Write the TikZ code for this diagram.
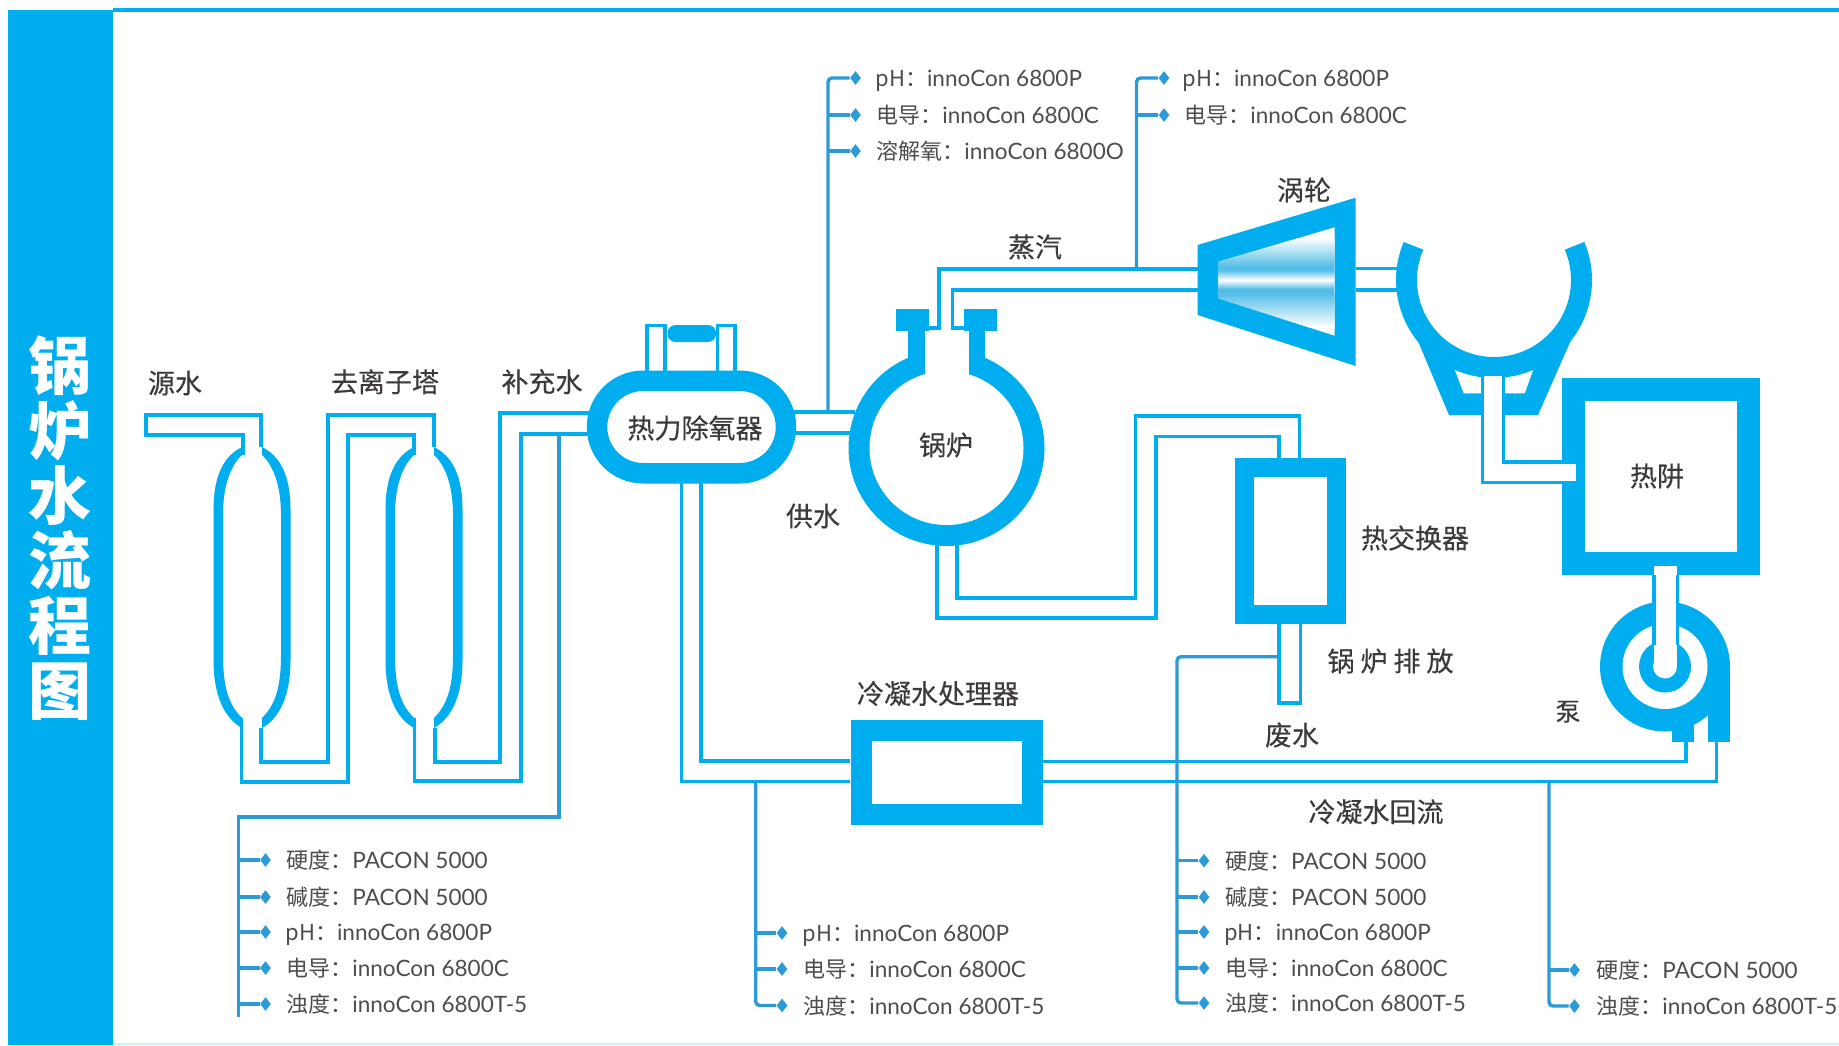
\documentclass[tikz,border=0pt]{standalone}
\usepackage{fontspec}
\setmainfont[Scale=1.025]{Lato}
\newfontfamily\cjk{Noto Sans CJK SC}
\newfontfamily\cjkm[FakeBold=0.35]{Noto Sans CJK SC}
\usetikzlibrary{shapes.geometric,shapes.misc}
\definecolor{pipec}{HTML}{00AEEF}
\definecolor{sensorc}{HTML}{2A9AD8}
\definecolor{textc}{HTML}{3E3A39}
\definecolor{smallc}{HTML}{4F4C4B}
\definecolor{turbc}{HTML}{52BDE7}
\tikzset{
  pipe/.style={draw=pipec,line width=1.6pt},
  wall/.style={fill=pipec},
  sensorline/.style={draw=sensorc,line width=1.7pt,rounded corners=2pt},
  tip/.style={diamond,fill=sensorc,inner sep=0pt,minimum width=5.5pt,minimum height=7pt},
  smalltext/.style={text=smallc,anchor=base west,inner sep=0pt,yshift=-4.3pt,font=\fontsize{11}{13}\selectfont},
  bigtext/.style={text=textc,inner sep=0pt,font=\fontsize{13.5}{15}\selectfont\cjkm},
}
\newcommand{\lab}[2]{{\cjk #1：}#2}
\newcommand{\sensorbranch}[6]{%
  \coordinate (#1-t) at (#2,#3);
  \node[tip] (#1-d) at (#4,#3) {};
  \draw[sensorline] (#1-t) -- (#1-d);
  \node[smalltext] (#1-l) at (#5,#3) {#6};
}
\newcommand{\vessel}{%
  \fill[wall] (242,447) .. controls (224,456) and (213.5,475) .. (213.5,510) -- (213.5,660) .. controls (213.5,695) and (224,718) .. (242,728) -- (242,718) .. controls (230,706) and (223,690) .. (223,655) -- (223,515) .. controls (223,485) and (231,465) .. (242,455) -- cycle;
  \fill[wall] (262,447) .. controls (280,456) and (290.5,475) .. (290.5,510) -- (290.5,660) .. controls (290.5,695) and (280,718) .. (262,728) -- (262,718) .. controls (274,706) and (281,690) .. (281,655) -- (281,515) .. controls (281,485) and (273,465) .. (262,455) -- cycle;
}
\begin{document}
\begin{tikzpicture}[x=0.5pt,y=-0.5pt]
\useasboundingbox (0,0) rectangle (1839,1045);
\fill[white] (0,0) rectangle (1839,1045);
% frame
\fill[pipec] (113,8) rectangle (1839,11.5);
\fill[pipec!20] (113,1043) rectangle (1839,1045);
\fill[pipec] (8,10) rectangle (113,1045);
\node[align=center,text=white,inner sep=0pt,font=\fontsize{31.5}{32.5}\selectfont\cjk\bfseries] (title) at (60,528) {锅\\炉\\水\\流\\程\\图};

% pipes
\draw[pipe] (243,455) -- (243,435) -- (146,435) -- (146,415) -- (261,415) -- (261,447);
\draw[pipe] (241.5,718) -- (241.5,782) -- (348,782) -- (348,435) -- (414,435) -- (414,455);
\draw[pipe] (261,728) -- (261,762) -- (328,762) -- (328,415) -- (434,415) -- (434,447);
\draw[pipe] (414.5,718) -- (414.5,781) -- (521,781) -- (521,434) -- (590,434);
\draw[pipe] (435,728) -- (435,762) -- (500,762) -- (500,413) -- (590,413);
\draw[pipe] (790,412) -- (855,412);
\draw[pipe] (790,433) -- (855,433);
\draw[pipe] (929,328) -- (939,328) -- (939,269) -- (1197.6,269);
\draw[pipe] (964,328) -- (952.6,328) -- (952.6,290) -- (1197.6,290);
\draw[pipe] (1355.7,268.5) -- (1400,268.5);
\draw[pipe] (1355.7,290) -- (1400,290);
\draw[pipe] (647,372) -- (647,325.5) -- (665,325.5) -- (665,372);
\draw[pipe] (717.5,372) -- (717.5,325.5) -- (735,325.5) -- (735,372);
\draw[pipe] (681.5,480) -- (681.5,781.7) -- (850,781.7);
\draw[pipe] (701,480) -- (701,761) -- (850,761);
\draw[pipe] (1043,761.5) -- (1686,761.5) -- (1686,741);
\draw[pipe] (1043,781.7) -- (1716.8,781.7) -- (1716.8,741);
\draw[pipe] (937,540) -- (937,618) -- (1156,618) -- (1156,436.7) -- (1279,436.7) -- (1279,460);
\draw[pipe] (957,540) -- (957,598) -- (1135.6,598) -- (1135.6,416) -- (1299.4,416) -- (1299.4,460);
\draw[pipe] (1279,620) -- (1279,703) -- (1300.7,703) -- (1300.7,620);

% tanks
\vessel
\begin{scope}[xshift=86pt]\vessel\end{scope}

% deaerator
\node[rounded rectangle,draw=pipec,fill=white,line width=10.25pt,minimum width=94.5pt,minimum height=46.25pt,inner sep=0pt] (dea) at (691.5,427) {};
\node[bigtext] (dealabel) at (695,428) {热力除氧器};
\fill[wall,rounded corners=4pt] (667.5,325) rectangle (716,342);

% boiler
\fill[wall] (946.5,448) circle [radius=98];
\fill[white] (946.5,448) circle [radius=77];
\fill[white] (925,335) rectangle (968.5,380);
\fill[wall] (908,331) rectangle (925,374);
\fill[wall] (968.5,331) rectangle (985,374);
\fill[wall] (896,309) rectangle (929,331);
\fill[wall] (964,309) rectangle (997,331);
\node[bigtext] (boiler) at (946,445) {锅炉};

% turbine
\fill[wall] (1197.6,245) -- (1355.7,197.7) -- (1355.7,366) -- (1197.6,315) -- cycle;
\fill[white] (1218.7,261.7) -- (1334.7,227.3) -- (1334.7,335.7) -- (1218.7,298.3) -- cycle;
\begin{scope}
  \clip (1218.7,261.7) -- (1334.7,227.3) -- (1334.7,335.7) -- (1218.7,298.3) -- cycle;
  \shade[top color=white,bottom color=turbc] (1218,238) rectangle (1335,267);
  \fill[turbc] (1218,267) rectangle (1335,270);
  \shade[top color=turbc,bottom color=white] (1218,270) rectangle (1335,280);
  \shade[top color=white,bottom color=turbc] (1218,280) rectangle (1335,289);
  \fill[turbc] (1218,289) rectangle (1335,293);
  \shade[top color=turbc,bottom color=white] (1218,293) rectangle (1335,327);
\end{scope}

% condenser
\fill[wall] (1417.5,340) -- (1449,415) -- (1538,415) -- (1571,340) -- cycle;
\fill[white] (1453,365) -- (1463.7,393.3) -- (1524.7,393.3) -- (1535,365) -- cycle;
\fill[white] (1494,280) circle [radius=78];
\draw[draw=pipec,line width=10.5pt] ([shift={(203:87.5)}]1494,280) arc [start angle=203,end angle=-23,radius=87.5];

% heat exchanger
\node[draw=pipec,fill=white,line width=9.5pt,minimum width=46pt,minimum height=73.5pt,inner sep=0pt] (hx) at (1290.5,540.5) {};
% condensate treatment
\node[draw=pipec,fill=white,line width=10.5pt,minimum width=85.5pt,minimum height=42pt,inner sep=0pt] (treat) at (946.5,772.5) {};
% hot well
\node[draw=pipec,fill=white,line width=11.5pt,minimum width=87.5pt,minimum height=87pt,inner sep=0pt] (well) at (1661.2,476) {};
\node[bigtext] (welllabel) at (1657,476) {热阱};

% condenser to well
\fill[white] (1484,376) rectangle (1502,416);
\fill[white] (1562,463.5) rectangle (1576,481);
\draw[pipe] (1482.6,377) -- (1482.6,482.5) -- (1562.5,482.5);
\draw[pipe] (1503.7,377) -- (1503.7,462) -- (1562.5,462);

% pump
\fill[wall] (1665,666.5) circle [radius=65];
\fill[wall] (1708,666.5) rectangle (1730,741.7);
\fill[wall] (1672,715) rectangle (1693.5,741.7);
\fill[white] (1665,666.5) circle [radius=42.5];
\fill[wall] (1665,666.5) circle [radius=26];
\fill[white] (1665,666.5) circle [radius=12];
\fill[white] (1654,566) rectangle (1677,667);
\draw[pipe] (1654,575) -- (1654,645);
\draw[pipe] (1677.5,575) -- (1677.5,645);

% sensor trunks
\coordinate (tleft-a) at (559,434);
\coordinate (tleft-b) at (559,817);
\coordinate (tleft-c) at (238.5,817);
\coordinate (tleft-d) at (238.5,1017);
\draw[sensorline,rounded corners=0pt] (tleft-a) -- (tleft-b) -- (tleft-c) -- (tleft-d);
\sensorbranch{a1}{238.5}{860}{265.5}{286}{\lab{硬度}{PACON 5000}}
\sensorbranch{a2}{238.5}{897}{265.5}{286}{\lab{碱度}{PACON 5000}}
\sensorbranch{a3}{238.5}{932}{265.5}{285}{\lab{pH}{innoCon 6800P}}
\sensorbranch{a4}{238.5}{968}{265.5}{286}{\lab{电导}{innoCon 6800C}}
\sensorbranch{a5}{238.5}{1004}{265.5}{286}{\lab{浊度}{innoCon 6800T-5}}

\coordinate (tmid-a) at (755.7,782);
\coordinate (tmid-b) at (755.7,1005.5);
\node[tip] (b3-d) at (782,1005.5) {};
\draw[sensorline] (tmid-a) -- (tmid-b) -- (b3-d);
\sensorbranch{b1}{755.7}{933}{782}{802}{\lab{pH}{innoCon 6800P}}
\sensorbranch{b2}{755.7}{969}{782}{803}{\lab{电导}{innoCon 6800C}}
\node[smalltext] (b3-l) at (803,1005.5) {\lab{浊度}{innoCon 6800T-5}};

\coordinate (ttop1-a) at (828,411);
\coordinate (ttop1-b) at (828,78);
\node[tip] (c1-d) at (855.5,78) {};
\draw[sensorline] (ttop1-a) -- (ttop1-b) -- (c1-d);
\node[smalltext] (c1-l) at (875,78) {\lab{pH}{innoCon 6800P}};
\sensorbranch{c2}{828}{115}{855.5}{876}{\lab{电导}{innoCon 6800C}}
\sensorbranch{c3}{828}{151}{855.5}{876}{\lab{溶解氧}{innoCon 6800O}}

\coordinate (ttop2-a) at (1136.5,268);
\coordinate (ttop2-b) at (1136.5,78);
\node[tip] (d1-d) at (1164,78) {};
\draw[sensorline] (ttop2-a) -- (ttop2-b) -- (d1-d);
\node[smalltext] (d1-l) at (1182,78) {\lab{pH}{innoCon 6800P}};
\sensorbranch{d2}{1136.5}{115}{1164}{1184}{\lab{电导}{innoCon 6800C}}

\coordinate (tw-a) at (1278,656.7);
\coordinate (tw-b) at (1177,656.7);
\coordinate (tw-c) at (1177,1003);
\node[tip] (e5-d) at (1204,1003) {};
\draw[sensorline] (tw-a) -- (tw-b) -- (tw-c) -- (e5-d);
\sensorbranch{e1}{1177}{860.7}{1204}{1224.7}{\lab{硬度}{PACON 5000}}
\sensorbranch{e2}{1177}{897}{1204}{1224.7}{\lab{碱度}{PACON 5000}}
\sensorbranch{e3}{1177}{932}{1204}{1223.7}{\lab{pH}{innoCon 6800P}}
\sensorbranch{e4}{1177}{968}{1204}{1224.7}{\lab{电导}{innoCon 6800C}}
\node[smalltext] (e5-l) at (1224.7,1003) {\lab{浊度}{innoCon 6800T-5}};

\coordinate (tr-a) at (1549,782);
\coordinate (tr-b) at (1549,1006);
\node[tip] (f2-d) at (1574.5,1006) {};
\draw[sensorline] (tr-a) -- (tr-b) -- (f2-d);
\sensorbranch{f1}{1549}{970}{1574.5}{1596}{\lab{硬度}{PACON 5000}}
\node[smalltext] (f2-l) at (1596,1006) {\lab{浊度}{innoCon 6800T-5}};

% labels
\node[bigtext] (l1) at (175,383) {源水};
\node[bigtext] (l2) at (385,381.7) {去离子塔};
\node[bigtext] (l3) at (542,381.7) {补充水};
\node[bigtext] (l4) at (813,516) {供水};
\node[bigtext] (l5) at (1035,247) {蒸汽};
\node[bigtext] (l6) at (1304,190) {涡轮};
\node[bigtext] (l7) at (1415,538) {热交换器};
\node[bigtext] (l8) at (1390.5,661) {锅\hspace{3pt}炉\hspace{3pt}排\hspace{3pt}放};
\node[bigtext] (l9) at (1292,735) {废水};
\node[bigtext,font=\fontsize{12.5}{14}\selectfont\cjkm] (l10) at (1568,711.7) {泵};
\node[bigtext] (l11) at (938,693.5) {冷凝水处理器};
\node[bigtext] (l12) at (1376,811.7) {冷凝水回流};
\end{tikzpicture}
\end{document}
